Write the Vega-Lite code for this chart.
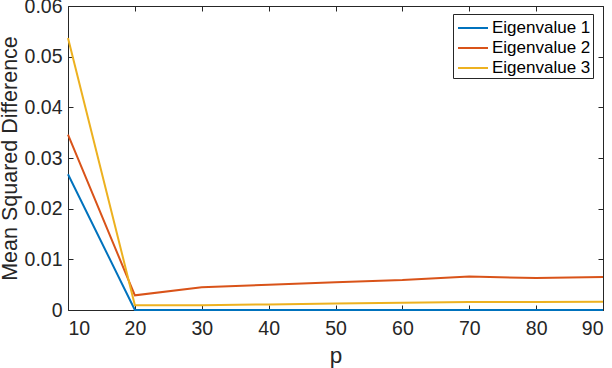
{
  "$schema": "https://vega.github.io/schema/vega-lite/v6.json",
  "width": 535,
  "height": 304,
  "autosize": {"type": "none"},
  "padding": {"left": 68, "top": 6, "right": 9, "bottom": 58},
  "background": "white",
  "config": {
    "font": "Liberation Sans",
    "view": {"stroke": "#262626", "strokeWidth": 1},
    "axis": {
      "grid": false,
      "domain": false,
      "tickColor": "#262626",
      "tickSize": -5,
      "labelColor": "#262626",
      "titleColor": "#262626",
      "labelFont": "Liberation Sans",
      "titleFont": "Liberation Sans",
      "labelFontSize": 19.5,
      "titleFontSize": 21.5,
      "titleFontWeight": "normal"
    },
    "legend": {
      "labelFont": "Liberation Sans",
      "labelFontSize": 17,
      "labelColor": "#000000"
    }
  },
  "data": {
    "values": [
      {"p": 10, "s": "Eigenvalue 1", "v": 0.0268},
      {"p": 20, "s": "Eigenvalue 1", "v": 0.00002},
      {"p": 30, "s": "Eigenvalue 1", "v": 0.00002},
      {"p": 40, "s": "Eigenvalue 1", "v": 0.00002},
      {"p": 50, "s": "Eigenvalue 1", "v": 0.00002},
      {"p": 60, "s": "Eigenvalue 1", "v": 0.00002},
      {"p": 70, "s": "Eigenvalue 1", "v": 0.00002},
      {"p": 80, "s": "Eigenvalue 1", "v": 0.00002},
      {"p": 90, "s": "Eigenvalue 1", "v": 0.00002},
      {"p": 10, "s": "Eigenvalue 2", "v": 0.0346},
      {"p": 20, "s": "Eigenvalue 2", "v": 0.0029},
      {"p": 30, "s": "Eigenvalue 2", "v": 0.0045},
      {"p": 40, "s": "Eigenvalue 2", "v": 0.005},
      {"p": 50, "s": "Eigenvalue 2", "v": 0.0055},
      {"p": 60, "s": "Eigenvalue 2", "v": 0.0059},
      {"p": 70, "s": "Eigenvalue 2", "v": 0.0066},
      {"p": 80, "s": "Eigenvalue 2", "v": 0.0063},
      {"p": 90, "s": "Eigenvalue 2", "v": 0.0065},
      {"p": 10, "s": "Eigenvalue 3", "v": 0.0537},
      {"p": 20, "s": "Eigenvalue 3", "v": 0.00095},
      {"p": 30, "s": "Eigenvalue 3", "v": 0.00095},
      {"p": 40, "s": "Eigenvalue 3", "v": 0.0011},
      {"p": 50, "s": "Eigenvalue 3", "v": 0.0013},
      {"p": 60, "s": "Eigenvalue 3", "v": 0.00145},
      {"p": 70, "s": "Eigenvalue 3", "v": 0.0016},
      {"p": 80, "s": "Eigenvalue 3", "v": 0.0016},
      {"p": 90, "s": "Eigenvalue 3", "v": 0.00165}
    ]
  },
  "layer": [
    {
      "mark": {"type": "line", "strokeWidth": 2, "clip": false},
      "encoding": {
        "x": {
          "field": "p", "type": "quantitative",
          "scale": {"domain": [10, 90], "nice": false, "zero": false},
          "axis": {"orient": "bottom", "values": [10, 20, 30, 40, 50, 60, 70, 80, 90], "title": "p", "labelPadding": 14, "titlePadding": 7, "titleFontSize": 22.5}
        },
        "y": {
          "field": "v", "type": "quantitative",
          "scale": {"domain": [0, 0.06], "nice": false},
          "axis": {"orient": "left", "values": [0, 0.01, 0.02, 0.03, 0.04, 0.05, 0.06], "format": ".2~f", "title": "Mean Squared Difference", "labelPadding": 11, "titlePadding": 3}
        },
        "color": {
          "field": "s", "type": "nominal",
          "scale": {"domain": ["Eigenvalue 1", "Eigenvalue 2", "Eigenvalue 3"], "range": ["#0072BD", "#D95319", "#EDB120"]},
          "legend": {
            "title": null,
            "orient": "none",
            "legendX": 385,
            "legendY": 8,
            "symbolType": "M-0.82,0L1.91,0",
            "symbolSize": 484,
            "symbolStrokeWidth": 2,
            "labelOffset": 13,
            "rowPadding": -0.3,
            "padding": 2,
            "strokeColor": "#262626",
            "fillColor": "white"
          }
        }
      }
    },
    {
      "mark": {"type": "line", "opacity": 0},
      "encoding": {
        "x": {
          "field": "p", "type": "quantitative",
          "axis": {"orient": "top", "values": [10, 20, 30, 40, 50, 60, 70, 80, 90], "labels": false, "title": null}
        },
        "y": {
          "field": "v", "type": "quantitative",
          "axis": {"orient": "right", "values": [0, 0.01, 0.02, 0.03, 0.04, 0.05, 0.06], "labels": false, "title": null}
        }
      }
    }
  ],
  "resolve": {"axis": {"x": "independent", "y": "independent"}}
}
